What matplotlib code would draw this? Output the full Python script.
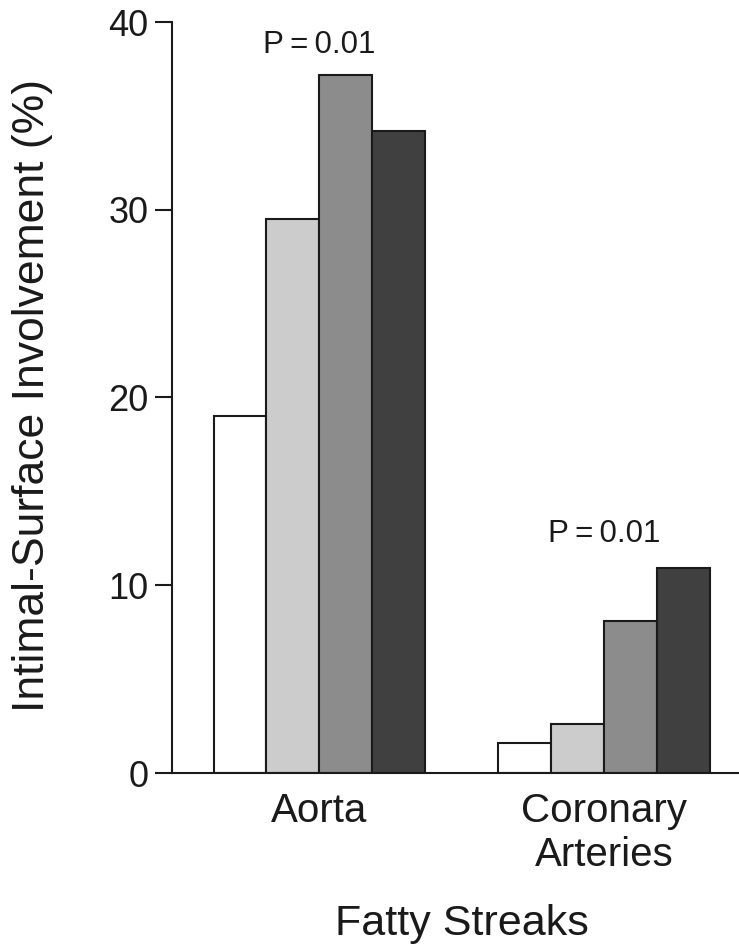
import matplotlib
matplotlib.use("Agg")
import matplotlib.pyplot as plt
import numpy as np

plt.rcParams['font.family'] = ['Liberation Sans', 'DejaVu Sans']

sites = ["Aorta", "Coronary\nArteries"]
aorta_values = [19.0, 29.5, 37.2, 34.2]
coronary_values = [1.6, 2.6, 8.1, 10.9]
bar_colors = ["#ffffff", "#cccccc", "#8c8c8c", "#404040"]
p_labels = ["P\u2009=\u20090.01", "P\u2009=\u20090.01"]
y_ticks = [0, 10, 20, 30, 40]

fig = plt.figure(figsize=(7.39, 9.47), dpi=100)
ax = fig.add_axes([172 / 739, 174 / 947, 1 - 172 / 739, 751 / 947])

width = 0.186
centers = np.arange(len(sites))
series = np.array([aorta_values, coronary_values]).T  # one row per shade
offsets = (np.arange(4) - 1.5) * width
for i in range(4):
    ax.bar(centers + offsets[i], series[i], width=width, color=bar_colors[i],
           edgecolor="#1a1a1a", linewidth=1.5, zorder=2)

ax.set_xlim(-0.518, 1.4745)
ax.set_ylim(0, 40)
ax.set_yticks(y_ticks)
ax.set_yticklabels([str(t) for t in y_ticks])
ax.set_xticks(centers)
ax.set_xticklabels(sites, linespacing=1.2)

for s in ["top", "right"]:
    ax.spines[s].set_visible(False)
for s in ["left", "bottom"]:
    ax.spines[s].set_linewidth(1.5)
    ax.spines[s].set_color("#1a1a1a")

ax.tick_params(axis="y", direction="out", length=12, width=1.5, color="#1a1a1a",
               labelsize=26, pad=5, labelcolor="#1a1a1a")
ax.tick_params(axis="x", length=0, labelsize=29, pad=14, labelcolor="#1a1a1a")

# significance labels above each group
ax.text(centers[0], 38.35, p_labels[0], ha="center", va="baseline", fontsize=22.5,
        color="#1a1a1a")
ax.text(centers[1], 12.3, p_labels[1], ha="center", va="baseline", fontsize=22.5,
        color="#1a1a1a")

fig.text(33 / 739, 1 - 395 / 947, "Intimal-Surface Involvement (%)", rotation=90,
         ha="center", va="center", fontsize=32, color="#1a1a1a")
fig.text(462 / 739, 1 - 935 / 947, "Fatty Streaks", ha="center", va="baseline",
         fontsize=31, color="#1a1a1a")

fig.savefig("out.png", dpi=100)
